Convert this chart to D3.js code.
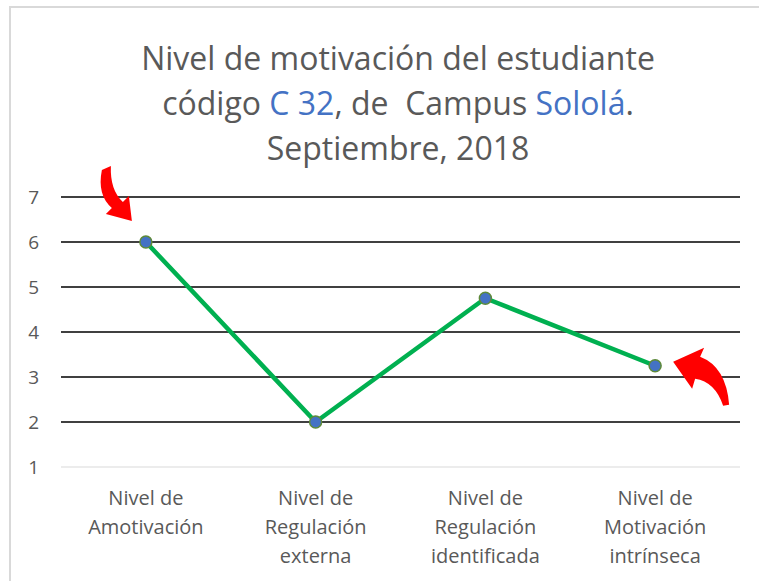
<!DOCTYPE html>
<html lang="es">
<head>
<meta charset="UTF-8">
<title>Nivel de motivación</title>
<script src="https://d3js.org/d3.v7.min.js"></script>
<style>
  body { margin: 0; background: #fff; }
  svg text { font-family: "Open Sans", "Noto Sans", sans-serif; fill: #595959; }
</style>
</head>
<body>
<div id="chart"></div>
<script>
// data
const categories = [
  ["Nivel de", "Amotivación"],
  ["Nivel de", "Regulación", "externa"],
  ["Nivel de", "Regulación", "identificada"],
  ["Nivel de", "Motivación", "intrínseca"]
];
const values = [6, 2, 4.75, 3.25];
const yTicks = [1, 2, 3, 4, 5, 6, 7];

const width = 759, height = 581;
const margin = {top: 197, right: 19, bottom: 114, left: 61};

const svg = d3.select("#chart").append("svg")
  .attr("width", width)
  .attr("height", height);

// chart frame
svg.append("rect")
  .attr("x", 10).attr("y", 7)
  .attr("width", width + 10).attr("height", height + 10)
  .attr("fill", "#fff")
  .attr("stroke", "#d9d9d9")
  .attr("stroke-width", 2);

const x = d3.scaleBand()
  .domain(d3.range(categories.length))
  .range([margin.left, width - margin.right]);

const y = d3.scaleLinear()
  .domain([1, 7])
  .range([height - margin.bottom, margin.top]);

// title
const title = svg.append("text")
  .attr("text-anchor", "middle")
  .attr("font-size", 32);
const titleLines = [
  [["Nivel de motivación del estudiante", "#595959"]],
  [["código ", "#595959"], ["C 32", "#4472c4"], [", de  Campus ", "#595959"], ["Sololá", "#4472c4"], [".", "#595959"]],
  [["Septiembre, 2018", "#595959"]]
];
titleLines.forEach((parts, i) => {
  parts.forEach((p, j) => {
    const ts = title.append("tspan").text(p[0]).style("fill", p[1]).attr("xml:space", "preserve");
    if (j === 0) ts.attr("x", 398).attr("y", 70 + i * 45);
  });
});

// gridlines
svg.append("g")
  .selectAll("line")
  .data(yTicks)
  .join("line")
  .attr("x1", margin.left)
  .attr("x2", width - margin.right)
  .attr("y1", d => y(d))
  .attr("y2", d => y(d))
  .attr("stroke", d => d === 1 ? "#d9d9d9" : "#000")
  .attr("stroke-width", d => d === 1 ? 1 : 1.5);

// y axis labels
svg.append("g")
  .selectAll("text")
  .data(yTicks)
  .join("text")
  .attr("x", 39)
  .attr("y", d => y(d))
  .attr("dy", "0.36em")
  .attr("text-anchor", "end")
  .attr("font-size", 19)
  .text(d => d);

// x labels
svg.append("g")
  .selectAll("text")
  .data(categories)
  .join("text")
  .attr("text-anchor", "middle")
  .attr("font-size", 20)
  .each(function (d, i) {
    d3.select(this).selectAll("tspan")
      .data(d)
      .join("tspan")
      .attr("x", x(i) + x.bandwidth() / 2)
      .attr("y", (t, k) => 505 + k * 29)
      .text(t => t);
  });

// line
const line = d3.line()
  .x((d, i) => x(i) + x.bandwidth() / 2)
  .y(d => y(d));

svg.append("path")
  .datum(values)
  .attr("fill", "none")
  .attr("stroke", "#00b050")
  .attr("stroke-width", 4.5)
  .attr("stroke-linejoin", "round")
  .attr("d", line);

svg.append("g")
  .selectAll("circle")
  .data(values)
  .join("circle")
  .attr("cx", (d, i) => x(i) + x.bandwidth() / 2)
  .attr("cy", d => y(d))
  .attr("r", 6)
  .attr("fill", "#4472c4")
  .attr("stroke", "#5e8a3a")
  .attr("stroke-width", 1.5);

// red arrows pointing at first and last points
const arrows = [
  {i: 0, d: "M-44,-72 Q-49,-47 -34,-34 L-40,-28 L-14,-21 L-17,-46 L-23,-40 Q-36,-52 -35,-76 Z"},
  {i: 3, d: "M18,-4 L49,-18 L45,-9 Q71,1 74,39 L68,40 Q60,16 40,13 L37,23 Z"}
];
svg.append("g")
  .selectAll("path")
  .data(arrows)
  .join("path")
  .attr("transform", a => `translate(${x(a.i) + x.bandwidth() / 2},${y(values[a.i])})`)
  .attr("fill", "#ff0000")
  .attr("d", a => a.d);
</script>
</body>
</html>
